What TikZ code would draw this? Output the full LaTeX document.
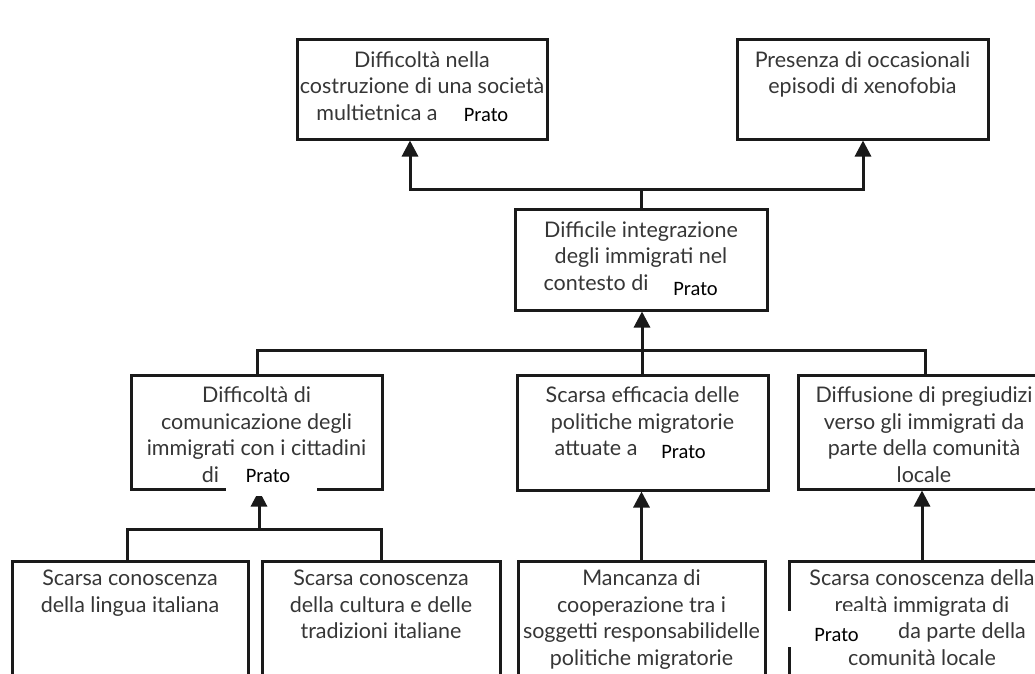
\documentclass[tikz,border=0pt]{standalone}
\usepackage{fontspec}
\setmainfont{Lato}
\newfontfamily\patchfont{Carlito}
\usetikzlibrary{arrows.meta}
\definecolor{ink}{HTML}{1A1A1A}
\definecolor{txt}{HTML}{363636}
\tikzset{
  box/.style={draw=ink, line width=3pt, rectangle, inner sep=0pt},
  lbl/.style={anchor=north, inner sep=0pt, align=center, text=txt,
              font=\fontsize{21.5}{26.5}\selectfont},
  link/.style={draw=ink, line width=3pt},
  arr/.style={link, -{Triangle[length=16pt,width=16pt]}},
  patchbg/.style={fill=white, draw=none},
  patchtxt/.style={anchor=base, inner sep=0pt, text=black,
                   font=\patchfont\fontsize{20.5}{24}\selectfont},
}
\begin{document}
\begin{tikzpicture}[x=1pt,y=-1pt]
\useasboundingbox (0,0) rectangle (1035,673);
\fill[white] (0,0) rectangle (1035,673);
\clip (0,0) rectangle (1035,673);

% boxes
\node[box, minimum width=250pt, minimum height=100pt] (A) at (422,89) {};
\node[box, minimum width=251pt, minimum height=100pt] (B) at (862.5,89) {};
\node[box, minimum width=252pt, minimum height=101pt] (C) at (641,259.5) {};
\node[box, minimum width=251pt, minimum height=114pt] (D) at (256.5,432) {};
\node[box, minimum width=251pt, minimum height=115pt] (E) at (642.5,432.5) {};
\node[box, minimum width=252pt, minimum height=114pt] (F) at (924,432) {};
\node[box, minimum width=236pt, minimum height=140pt] (G) at (130,631) {};
\node[box, minimum width=238pt, minimum height=140pt] (H) at (381,631) {};
\node[box, minimum width=247pt, minimum height=140pt] (I) at (641.5,631) {};
\node[box, minimum width=266pt, minimum height=140pt] (J) at (922,631) {};

% box texts
\node[lbl] (tA) at ([yshift=-11pt]A.north) {\strut Difficoltà nella\\costruzione di una società\\multietnica a\makebox[90pt]{}};
\node[lbl] (tB) at ([yshift=-11pt]B.north) {\strut Presenza di occasionali\\episodi di xenofobia};
\node[lbl] (tC) at ([yshift=-11pt]C.north) {\strut Difficile integrazione\\degli immigrati nel\\contesto di\makebox[90pt]{}};
\node[lbl] (tD) at ([yshift=-10.5pt]D.north) {\strut Difficoltà di\\comunicazione degli\\immigrati con i cittadini\\di\makebox[92pt]{}};
\node[lbl] (tE) at ([yshift=-10.5pt]E.north) {\strut Scarsa efficacia delle\\politiche migratorie\\attuate a\makebox[93pt]{}};
\node[lbl] (tF) at ([yshift=-10.5pt]F.north) {\strut Diffusione di pregiudizi\\verso gli immigrati da\\parte della comunità\\locale};
\node[lbl] (tG) at ([yshift=-7.5pt]G.north) {\strut Scarsa conoscenza\\della lingua italiana};
\node[lbl] (tH) at ([yshift=-7.5pt]H.north) {\strut Scarsa conoscenza\\della cultura e delle\\tradizioni italiane};
\node[lbl] (tI) at ([yshift=-7.5pt]I.north) {\strut Mancanza di\\cooperazione tra i\\soggetti responsabilidelle\\politiche migratorie};
\node[lbl] (tJ) at ([yshift=-7.5pt]J.north) {\strut Scarsa conoscenza della\\realtà immigrata di\\\makebox[80pt]{}da parte della\\comunità locale};

% connectors
\coordinate (j1) at (641,189);
\draw[link] (C.north) -- (j1);
\draw[arr] (j1) -| ([xshift=-12pt]A.south);
\draw[arr] (j1) -| ([xshift=0.5pt]B.south);

\coordinate (j2) at (642,350);
\draw[arr] (j2) -- (j2 |- C.south);
\draw[link] ([xshift=0.5pt]D.north) |- (j2) -| ([xshift=1pt]F.north);
\draw[link] (j2) -- (j2 |- E.north);

\coordinate (j3) at (259,529);
\draw[arr] (j3) -- (j3 |- D.south);
\draw[link] ([xshift=-3pt]G.north) |- (j3) -| (H.north);

\draw[arr] (I.north) -- (I.north |- E.south);
\draw[arr] (J.north) -- (J.north |- F.south);

% place-name patches
\fill[patchbg] (450,98) rectangle (522,123);
\begin{scope}
  \clip (450,95) rectangle (522,121);
  \node[patchtxt] (pA) at (486,121) {Prato};
\end{scope}
\fill[patchbg] (660,272) rectangle (732,304);
\node[patchtxt] (pC) at (695.5,295) {Prato};
\fill[patchbg] (226,456) rectangle (317,496);
\node[patchtxt] (pD) at (268,482) {Prato};
\fill[patchbg] (647,438) rectangle (725,470);
\node[patchtxt] (pE) at (683.5,458) {Prato};
\fill[patchbg] (786,611) rectangle (878,647);
\begin{scope}
  \clip (786,611) rectangle (878,641.5);
  \node[patchtxt] (pJ) at (836.5,641) {Prato};
\end{scope}
\end{tikzpicture}
\end{document}
